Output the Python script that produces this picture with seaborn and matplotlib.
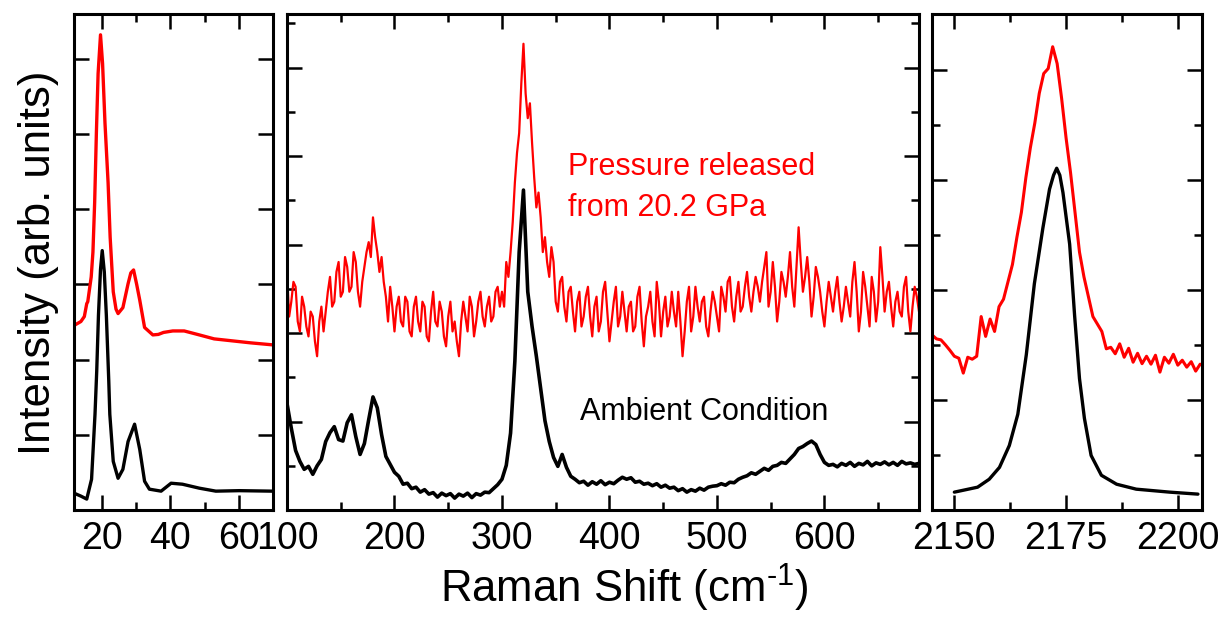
import numpy as np
import pandas as pd
import matplotlib
matplotlib.use("Agg")
import matplotlib.pyplot as plt
import seaborn as sns

# ---------------- data (arbitrary intensity units) -------------
# Left panel (low-frequency region)
left_red_x = [12, 14, 15, 15.7, 16, 17, 17.5, 18, 18.5, 19, 19.7, 20.3, 21, 21.9, 22.5, 23.4,
              24.2, 24.8, 26.2, 27.7, 28.5, 29.3, 30.2, 31.1, 32.5, 34.9, 36.5, 38, 40.7, 44,
              48.4, 52.7, 58, 63.3, 69.6]
left_red_y = [37.2, 38.0, 39.0, 41.6, 42.0, 47.0, 52.0, 62.0, 76.0, 88.0, 95.8, 90.0, 78.0, 66.0,
              55.0, 44.0, 40.5, 39.6, 40.8, 45.6, 47.8, 48.4, 45.5, 42.3, 36.8, 35.3, 35.4, 35.8,
              36.1, 36.1, 35.3, 34.5, 34.1, 33.7, 33.3]
left_blk_x = [12, 14, 15.7, 17.1, 18.1, 18.6, 19.1, 19.7, 20.2, 20.8, 21.4, 22.1, 22.4, 23.4,
              24.8, 26.2, 27.7, 29.6, 31.1, 32.5, 33.9, 37.3, 40.2, 43.5, 48.4, 53.2, 60, 69.6]
left_blk_y = [3.4, 2.8, 2.2, 6.2, 19.3, 28.0, 39.2, 48.5, 52.3, 48.0, 39.2, 26.0, 19.3, 9.8,
              6.4, 8.2, 13.8, 17.3, 12.2, 5.8, 4.2, 3.8, 5.4, 5.2, 4.4, 3.8, 3.9, 3.8]

# Middle panel: red spectrum sampled every 2 cm-1 (100 - 688)
mid_red_x = np.arange(100, 689, 2)
mid_red_y = [48, 39, 42, 46, 45, 38, 36, 43, 41, 37,
             35, 40, 39, 34, 31, 38, 41, 36, 40, 44,
             47, 41, 42, 48, 50, 43, 44, 51, 49, 44,
             45, 52, 50, 44, 41, 46, 49, 52, 54, 51,
             59, 55, 52, 48, 51, 46, 43, 38, 45, 41,
             36, 41, 43, 38, 37, 43, 42, 36, 35, 41,
             43, 38, 36, 42, 41, 35, 34, 40, 44, 38,
             37, 42, 40, 35, 33, 39, 42, 36, 38, 34,
             31, 38, 42, 39, 36, 43, 41, 35, 38, 42,
             44, 39, 37, 41, 43, 38, 39, 44, 45, 41,
             44, 41, 50, 47, 52, 58, 66, 72, 76, 86,
             94, 84, 79, 82, 74, 67, 61, 64, 59, 52,
             55, 50, 47, 53, 50, 42, 40, 46, 47, 41,
             38, 44, 45, 40, 36, 42, 44, 37, 39, 43,
             45, 39, 35, 41, 43, 36, 38, 44, 46, 40,
             34, 38, 42, 45, 37, 39, 44, 40, 36, 41,
             42, 36, 37, 43, 45, 38, 33, 39, 41, 44,
             38, 35, 46, 42, 35, 40, 43, 37, 39, 44,
             40, 37, 44, 38, 31, 36, 42, 45, 36, 39,
             45, 41, 38, 42, 43, 37, 35, 40, 44, 42,
             39, 36, 45, 43, 40, 46, 47, 41, 38, 43,
             46, 40, 41, 45, 48, 43, 40, 44, 47, 45,
             42, 46, 49, 52, 41, 44, 50, 45, 38, 42,
             48, 46, 43, 47, 52, 45, 41, 49, 57, 50,
             44, 47, 51, 46, 39, 43, 49, 47, 44, 40,
             37, 42, 46, 43, 40, 44, 47, 42, 38, 41,
             45, 42, 39, 46, 50, 44, 36, 40, 48, 45,
             41, 37, 47, 44, 38, 42, 53, 47, 40, 44,
             46, 41, 37, 42, 44, 40, 39, 45, 47, 40,
             36, 41, 45, 43, 40]

# Middle panel: black spectrum sampled every 4 cm-1 (100 - 688)
mid_blk_x = np.arange(100, 689, 4)
mid_blk_y = [21.5, 16.5, 12.0, 9.8, 8.2, 8.8, 7.2, 8.9, 10.2, 13.8,
             15.6, 16.8, 14.2, 13.9, 17.6, 19.2, 14.8, 11.2, 13.4, 18.2,
             22.8, 20.6, 15.2, 10.8, 9.2, 7.6, 6.8, 5.2, 5.4, 4.3,
             4.6, 3.6, 4.1, 3.2, 3.5, 2.6, 3.4, 2.9, 3.3, 2.4,
             3.2, 2.8, 3.4, 2.5, 3.3, 3.0, 3.6, 3.5, 4.3, 5.1,
             6.2, 9.0, 15.5, 30.0, 52.0, 64.5, 44.0, 37.0, 31.0, 24.5,
             18.0, 13.8, 10.6, 8.8, 11.2, 8.6, 6.8, 6.2, 5.5, 5.8,
             5.0, 5.7, 5.2, 5.9, 5.1, 5.6, 5.3, 6.0, 6.6, 6.2,
             6.5, 5.6, 5.8, 5.2, 5.4, 4.9, 5.3, 4.6, 5.0, 4.4,
             4.6, 3.9, 4.3, 3.6, 4.1, 3.8, 4.4, 4.0, 4.6, 4.8,
             4.9, 5.3, 5.0, 5.6, 5.5, 6.2, 6.6, 6.9, 7.5, 7.2,
             7.8, 8.4, 8.0, 8.8, 9.0, 9.6, 9.4, 10.3, 11.2, 12.4,
             12.8, 13.4, 13.9, 13.2, 11.2, 9.6, 9.0, 9.2, 8.7, 9.4,
             9.0, 9.6, 8.8, 9.4, 9.1, 9.8, 8.9, 9.5, 9.2, 9.7,
             9.1, 9.6, 9.0, 9.8, 9.3, 9.5, 9.2, 9.4]

# Right panel (C≡N stretching region)
right_red_x = np.arange(2145, 2206, 1)
right_red_y = [35.3, 34.5, 34.3, 33.3, 32.2, 31.0, 30.6, 27.6, 30.8, 30.4,
               31.0, 39.0, 35.0, 38.5, 36.0, 41.0, 42.5, 46.0, 49.5, 55.0,
               60.0, 67.0, 73.0, 78.0, 84.0, 88.0, 89.0, 93.4, 90.0, 83.0,
               75.0, 68.0, 60.0, 52.0, 47.0, 43.0, 39.0, 37.5, 36.0, 32.5,
               32.8, 31.5, 33.5, 30.8, 32.6, 29.8, 31.6, 29.5, 31.0, 29.4,
               31.2, 27.8, 30.8, 29.6, 31.4, 29.2, 30.2, 28.8, 29.9, 28.0,
               29.4]
right_blk_x = [2150.0, 2155.2, 2157.8, 2160.1, 2162.3, 2164.2, 2166.1, 2167.9, 2169.8, 2171.3,
               2172.2, 2172.9, 2173.6, 2174.3, 2175.8, 2176.9, 2178.0, 2179.1, 2180.6, 2182.9,
               2186.3, 2190.7, 2198.2, 2204.5]
right_blk_y = [3.6, 4.6, 6.2, 8.6, 13.0, 19.3, 31.3, 45.6, 56.8, 64.7,
               67.5, 68.9, 67.5, 64.0, 53.6, 39.3, 26.5, 18.5, 11.0, 7.0,
               5.2, 4.2, 3.6, 3.2]

# ---------------- style -------------
sns.set_theme(style="ticks")
plt.rcParams["font.family"] = ["Liberation Sans", "DejaVu Sans"]
plt.rcParams["mathtext.fontset"] = "custom"
plt.rcParams["mathtext.rm"] = "Liberation Sans"
plt.rcParams["mathtext.it"] = "Liberation Sans"
plt.rcParams["mathtext.default"] = "regular"
for key in ("text.color", "axes.labelcolor", "xtick.color", "ytick.color", "axes.edgecolor"):
    plt.rcParams[key] = "black"

W, H = 1225, 618
fig = plt.figure(figsize=(W / 100, H / 100), dpi=100)


def frac_rect(x0, x1, y0, y1):
    return [x0 / W, 1 - y1 / H, (x1 - x0) / W, (y1 - y0) / H]


ax_l = fig.add_axes(frac_rect(74, 273, 14, 510))
ax_m = fig.add_axes(frac_rect(287, 919, 14, 510))
ax_r = fig.add_axes(frac_rect(932, 1201.5, 14, 510))

RED = "#ff0000"
BLK = "#000000"

sns.lineplot(x=left_red_x, y=left_red_y, ax=ax_l, color=RED, lw=2.4, estimator=None)
sns.lineplot(x=left_blk_x, y=left_blk_y, ax=ax_l, color=BLK, lw=2.4, estimator=None)
sns.lineplot(x=mid_red_x, y=mid_red_y, ax=ax_m, color=RED, lw=1.6, estimator=None)
sns.lineplot(x=mid_blk_x, y=mid_blk_y, ax=ax_m, color=BLK, lw=2.6, estimator=None)
sns.lineplot(x=right_red_x, y=right_red_y, ax=ax_r, color=RED, lw=2.2, estimator=None)
sns.lineplot(x=right_blk_x, y=right_blk_y, ax=ax_r, color=BLK, lw=2.4, estimator=None)

ax_l.set_xlim(12, 69.8)
ax_m.set_xlim(100, 688)
ax_r.set_xlim(2145, 2205.3)

ax_l.set_xticks([20, 40, 60])
ax_l.set_xticks([30, 50], minor=True)
ax_m.set_xticks([100, 200, 300, 400, 500, 600])
ax_m.set_xticks([150, 250, 350, 450, 550, 650], minor=True)
ax_r.set_xticks([2150, 2175, 2200])
ax_r.set_xticks([2162.5, 2187.5], minor=True)

# y ticks (unlabelled)
ax_l.set_yticks(np.arange(0, 100, 15.16))
ax_m.set_yticks(np.arange(0, 100, 17.84))
ax_m.set_yticks(np.arange(8.92, 100, 17.84), minor=True)
ax_r.set_yticks(np.arange(0, 100, 22.2))
ax_r.set_yticks(np.arange(11.1, 100, 22.2), minor=True)

for ax in (ax_l, ax_m, ax_r):
    ax.set_ylim(0, 100)
    ax.set_xlabel("")
    ax.set_ylabel("")
    ax.set_yticklabels([])
    for s in ax.spines.values():
        s.set_visible(True)
        s.set_linewidth(2.2)
        s.set_color("black")
    ax.tick_params(which="both", direction="in", top=True, right=True,
                   bottom=True, left=True, width=1.8, color="black", labelcolor="black")
    ax.tick_params(which="major", length=10.5, labelsize=27, pad=8)
    ax.tick_params(which="minor", length=6)
    ax.set_facecolor("white")
    ax.grid(False)

fig.text(624 / W, 1 - 603 / H, r"Raman Shift (cm$^{\text{-1}}$)", fontsize=31.5,
         ha="center", va="baseline", color="black")
fig.text(38.5 / W, 1 - 262.5 / H, "Intensity (arb. units)", fontsize=31.5,
         rotation=90, ha="center", va="center", color="black")

fig.text(568 / W, 1 - 175 / H, "Pressure released", fontsize=22, color=RED,
         ha="left", va="baseline")
fig.text(568 / W, 1 - 215.8 / H, "from 20.2 GPa", fontsize=22, color=RED,
         ha="left", va="baseline")
fig.text(580 / W, 1 - 419.6 / H, "Ambient Condition", fontsize=22, color=BLK,
         ha="left", va="baseline")

fig.savefig("out.png", dpi=100, facecolor="white")
